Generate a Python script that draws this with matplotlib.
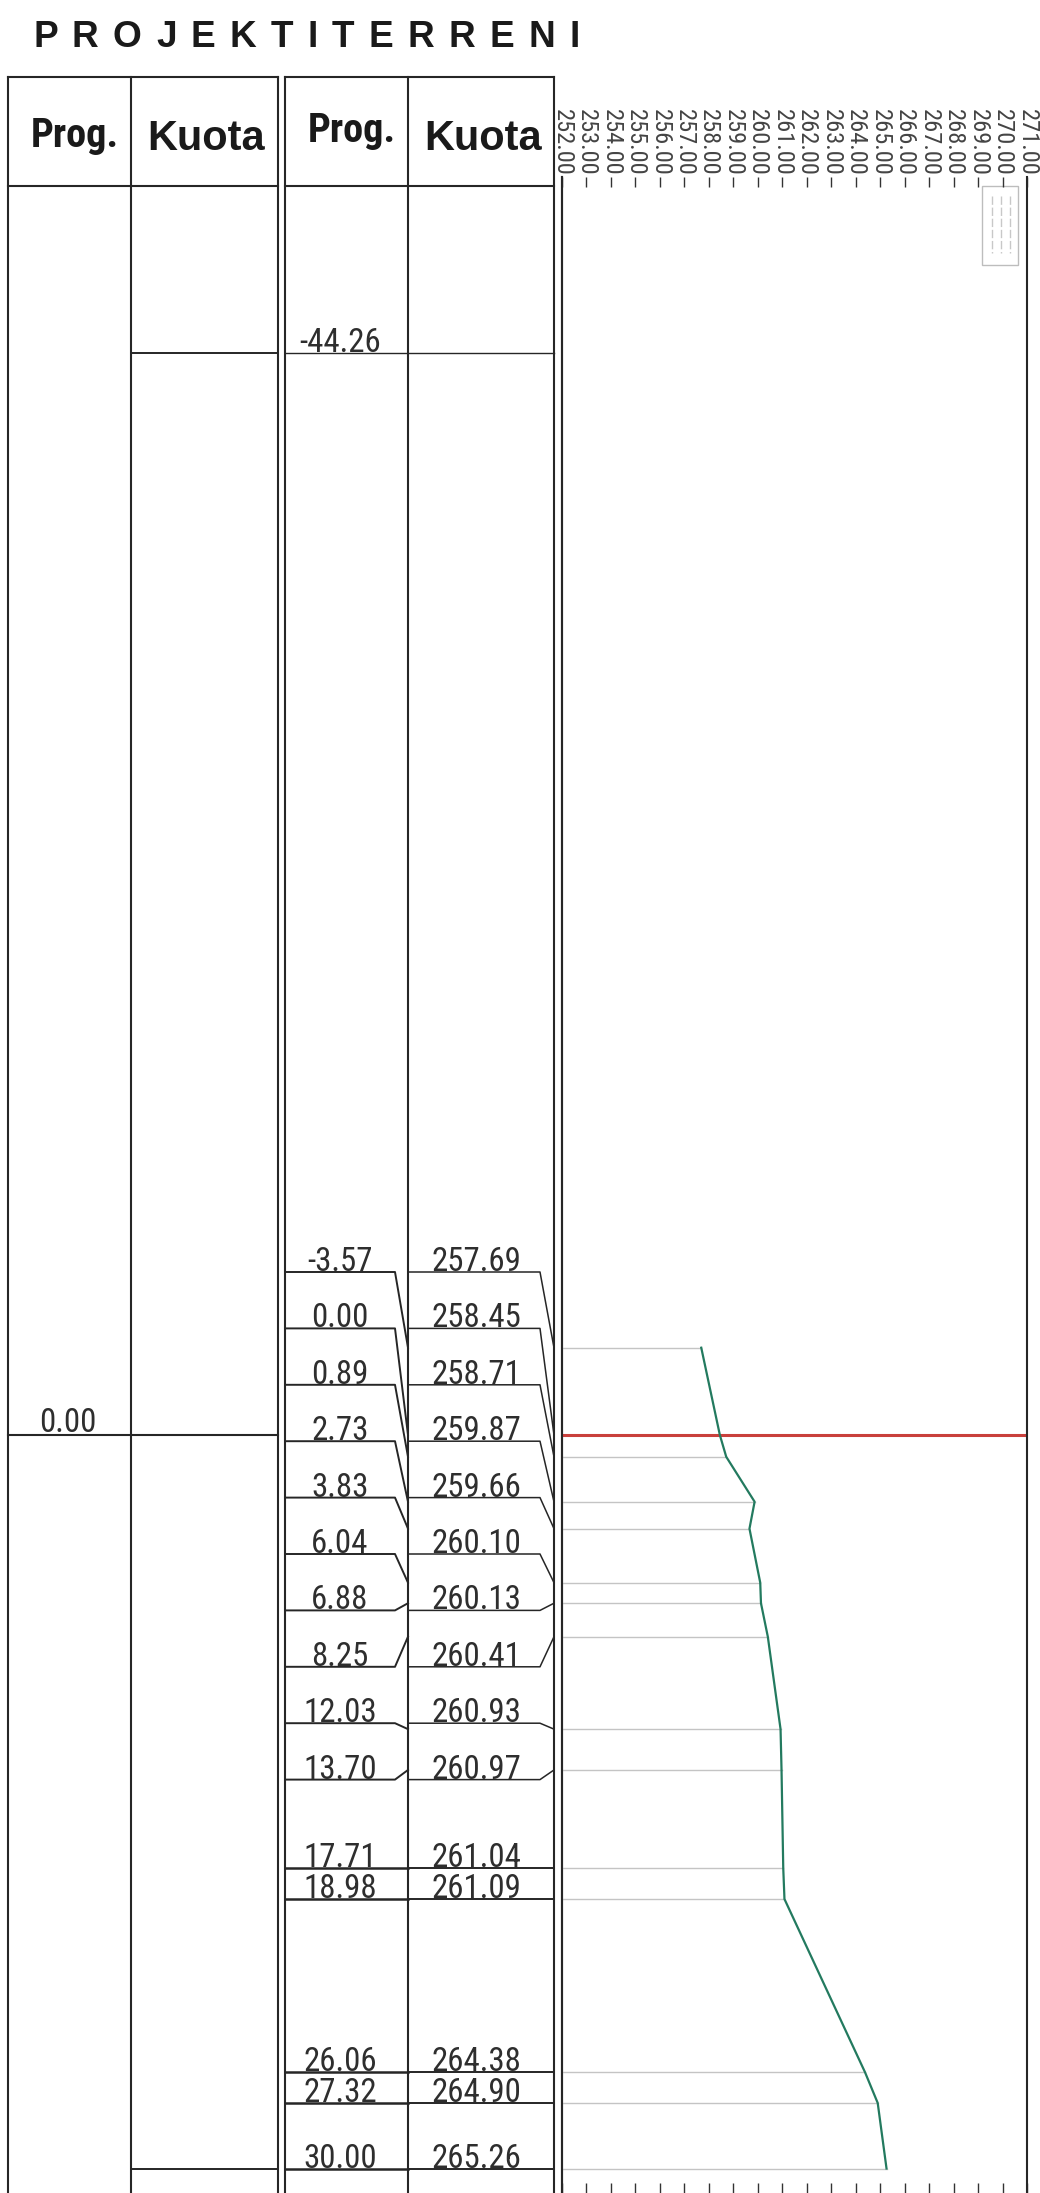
import matplotlib
matplotlib.use("Agg")
import matplotlib.pyplot as plt
from matplotlib import font_manager as fm
from matplotlib.font_manager import FontProperties
from matplotlib.textpath import TextPath
from matplotlib.patches import Rectangle
import numpy as np

# ---------------- data ----------------
title = "PROJEKTITERRENI"
header_prog = "Prog."
header_kuota = "Kuota"
prog = [-3.57, 0.00, 0.89, 2.73, 3.83, 6.04, 6.88, 8.25, 12.03, 13.70,
        17.71, 18.98, 26.06, 27.32, 30.00]
kuota = [257.69, 258.45, 258.71, 259.87, 259.66, 260.10, 260.13, 260.41,
         260.93, 260.97, 261.04, 261.09, 264.38, 264.90, 265.26]
axis_prog = 0.00          # reference station (red line, left table)
top_prog = -44.26         # upper station label
design_end_prog = 30.00   # lower line in left table
elev_ticks = list(range(252, 272))
elev_tick_labels = [f"{v:.2f}" for v in elev_ticks]
red_ticks = [254, 259, 261, 266, 268]

# ---------------- layout (pixels) ----------------
W, H, DPI = 1040, 2193, 100
Y0, S = 1435.0, 24.45          # pixel row of station 0.00, px per metre
X_L, X_R = 562.0, 1027.0       # profile frame (252 -> 271)
P_TOP = 177.0
T1 = [8, 131, 278]
T2 = [285, 408, 554]
TOP_Y, HEAD_Y = 77, 186
N_SLOT = 10
SLOT0, SLOT_DY = 1272.0, 56.4

def py(px):            # pixel row -> station units
    return (px - Y0) / S

# ---------------- fonts ----------------
def _w(f):
    w = f.weight
    if isinstance(w, str):
        w = fm.weight_dict.get(w, 400)
    return w

def find_font(bold):
    prefs = ["Liberation Sans Narrow", "Arial Narrow", "Roboto Condensed",
             "Open Sans Condensed", "Noto Sans", "Open Sans", "DejaVu Sans"]
    cands = [f for f in fm.fontManager.ttflist
             if f.stretch in ("condensed", "semi-condensed", "extra-condensed")
             or "Narrow" in f.name or "Condensed" in f.name]
    for name in prefs:
        for f in cands:
            if f.name == name and f.style == "normal" and ((_w(f) >= 600) == bold) \
                    and f.stretch != "extra-condensed":
                return FontProperties(fname=f.fname)
    return FontProperties(family="Liberation Sans", weight="bold" if bold else "normal")

FP_N = find_font(False)
FP_B = find_font(True)
FP_WB = FontProperties(family="Liberation Sans", weight="bold")

def fit(txt, prop, tw, th):
    e = TextPath((0, 0), txt, size=100, prop=prop).get_extents()
    em_px = min(tw / (e.width / 100), th / (e.height / 100))
    return em_px * 72.0 / DPI

def with_size(prop, size):
    p = prop.copy()
    p.set_size(size)
    return p

fig = plt.figure(figsize=(W / DPI, H / DPI), dpi=DPI)
fig.patch.set_facecolor("white")

ax = fig.add_axes([0, 0, 1, 1])
ax.set_xlim(0, W)
ax.set_ylim(py(H), py(0))
ax.axis("off")

LC = "#262626"
TC = "#2e2e2e"

# title with letter spacing
adv = {"P": .667, "R": .722, "O": .778, "J": .556, "E": .667, "K": .722,
       "T": .611, "I": .278, "N": .722}
em = 37.0
tot = sum(adv[c] for c in title) * em
gap = (547 - tot) / (len(title) - 1)
x = 33.0
tprop = with_size(FP_WB, em * 72.0 / DPI)
for c in title:
    ax.text(x, py(47), c, fontproperties=tprop, color="#1a1a1a",
            ha="left", va="baseline")
    x += adv[c] * em + gap

# table frames
for xs in (T1, T2):
    for xv in xs:
        ax.plot([xv, xv], [py(TOP_Y), py(H + 5)], color=LC, lw=1.5)
    for yv in (TOP_Y, HEAD_Y):
        ax.plot([xs[0], xs[2]], [py(yv), py(yv)], color=LC, lw=1.5)
ax.plot([X_L, X_L], [py(P_TOP), py(H + 5)], color=LC, lw=1.5)

# headers
hp = with_size(FP_B, fit(header_prog, FP_B, 92, 37))
hk = with_size(FP_WB, fit(header_kuota, FP_WB, 124, 29))
for xs, yb in ((T1, 147), (T2, 142)):
    ax.text((xs[0] + xs[1]) / 2 + 5, py(yb), header_prog, fontproperties=hp,
            color="#1a1a1a", ha="center", va="baseline")
    ax.text((xs[1] + xs[2]) / 2 + 2, py(150), header_kuota, fontproperties=hk,
            color="#1a1a1a", ha="center", va="baseline")

npn = with_size(FP_N, fit("257.69", FP_N, 86, 24))

# left table: station 0.00 line and kuota-column limits
ax.plot([T1[0], T1[2]], [axis_prog, axis_prog], color=LC, lw=1.5)
ax.text(68, axis_prog - 3 / S, f"{axis_prog:.2f}", fontproperties=npn,
        color=TC, ha="center", va="baseline")
for pv in (top_prog, design_end_prog):
    ax.plot([T1[1], T1[2]], [pv, pv], color=LC, lw=1.4)
ax.plot([T2[0], T2[2]], [top_prog, top_prog], color=LC, lw=1.0)
ax.text(340, top_prog - 1 / S, f"{top_prog:.2f}", fontproperties=npn,
        color=TC, ha="center", va="baseline")

# second table: labels with leaders
for i, (p, k) in enumerate(zip(prog, kuota)):
    if i < N_SLOT:
        ys = py(SLOT0 + i * SLOT_DY)
        ax.plot([T2[0], 395, T2[1]], [ys, ys, p], color=LC, lw=1.4)
        ax.plot([T2[1], 540, T2[2]], [ys, ys, p], color=LC, lw=1.1)
    else:
        ys = p
        ax.plot([T2[0], T2[1]], [ys, ys], color=LC, lw=1.8)
        ax.plot([T2[1], T2[2]], [ys, ys], color=LC, lw=1.4)
    ax.text(340, ys - 1 / S, f"{p:.2f}", fontproperties=npn,
            color=TC, ha="center", va="baseline")
    ax.text(476, ys - 1 / S, f"{k:.2f}", fontproperties=npn,
            color=TC, ha="center", va="baseline")

# ---------------- profile axes ----------------
axp = fig.add_axes([X_L / W, 0, (X_R - X_L) / W, (H - P_TOP) / H])
axp.set_facecolor("none")
axp.set_xlim(elev_ticks[0], elev_ticks[-1])
axp.set_ylim(py(H), py(P_TOP))
axp.set_xticks(elev_ticks)
tlp = with_size(FP_N, fit("252.00", FP_N, 64, 18))
axp.set_xticklabels(elev_tick_labels, fontproperties=tlp)
axp.set_yticks([])
axp.tick_params(axis="x", top=True, bottom=True, labeltop=True, labelbottom=False,
                direction="in", length=10 * 72 / DPI, width=1.0, color="#333333",
                labelrotation=-90, pad=1, labelcolor="#444444")
for t, v in zip(axp.xaxis.get_major_ticks(), elev_ticks):
    if v in red_ticks:
        t.tick2line.set_color("#d03030")
for s in ("top", "bottom"):
    axp.spines[s].set_visible(False)
for s in ("left", "right"):
    axp.spines[s].set_color(LC)
    axp.spines[s].set_linewidth(1.5)

# station lines from frame to ground line
for p, k in zip(prog, kuota):
    axp.plot([elev_ticks[0], k], [p, p], color="#c4c4c4", lw=1.0, zorder=1)
# reference line at station 0.00
axp.axhline(axis_prog, color="#c9403c", lw=2.2, zorder=2)
# ground profile
axp.plot(kuota, prog, color="#237a5f", lw=1.6, zorder=3)

# small legend box (faint)
lx0, lx1, ly0, ly1 = 982, 1018, 186, 265
ax.add_patch(Rectangle((lx0, py(ly1)), lx1 - lx0, py(ly0) - py(ly1), fill=False,
                       ec="#bdbdbd", lw=1.0, zorder=5))
for xv in (992, 1001, 1010):
    ax.plot([xv, xv], [py(ly0 + 10), py(ly1 - 12)], color="#c8c8c8", lw=1.0,
            ls=(0, (6, 2)), zorder=5)

fig.savefig("out.png", dpi=DPI, facecolor="white")
